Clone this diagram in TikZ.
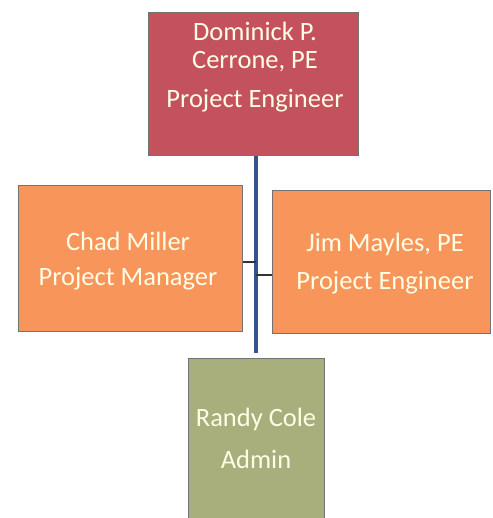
\documentclass[tikz,border=0pt]{standalone}
\usepackage{fontspec}
\setmainfont{Carlito}
\definecolor{topred}{HTML}{C4525C}
\definecolor{orng}{HTML}{F7955A}
\definecolor{olive}{HTML}{A8AE7C}
\definecolor{linkblue}{HTML}{33558C}
\begin{document}
\begin{tikzpicture}[x=1pt,y=-1pt,
  box/.style={draw=black!55,line width=1pt,inner sep=0pt,anchor=north west},
  lbl/.style={text=white!90!yellow,font=\fontsize{26.5}{30}\selectfont,align=center},
  link/.style={draw=linkblue,line width=3.5pt},
  tick/.style={draw=black!80,line width=1.2pt}]
\useasboundingbox (0,0) rectangle (492,518);
% boxes
\node[box,fill=topred,minimum width=210pt,minimum height=143pt] (top) at (148,12) {};
\node[box,fill=orng,minimum width=224pt,minimum height=146pt] (left) at (18,185) {};
\node[box,fill=orng,minimum width=218pt,minimum height=143pt] (right) at (272,190) {};
\node[box,fill=olive,minimum width=136pt,minimum height=160pt] (bot) at (188,358) {};
% labels
\node[lbl] (t1) at (255,31) {Dominick P.};
\node[lbl] (t2) at (255,62) {Cerrone, PE};
\node[lbl] (t3) at (255,101) {Project Engineer};
\node[lbl] (l1) at (128,241) {Chad Miller};
\node[lbl] (l2) at (128,279) {Project Manager};
\node[lbl] (r1) at (385,244) {Jim Mayles, PE};
\node[lbl] (r2) at (385,283) {Project Engineer};
\node[lbl] (b1) at (256,419) {Randy Cole};
\node[lbl] (b2) at (256,459) {Admin};
% connectors
\coordinate (spineTop) at (256,155);
\coordinate (spineBot) at (256,353);
\coordinate (junc) at (256,275);
\draw[link] (top.south -| spineTop) -- (spineBot);
\draw[tick] (junc) -- (junc -| right.west);
\draw[tick] (left.east |- 0,262) -- (256,262);
\end{tikzpicture}
\end{document}
